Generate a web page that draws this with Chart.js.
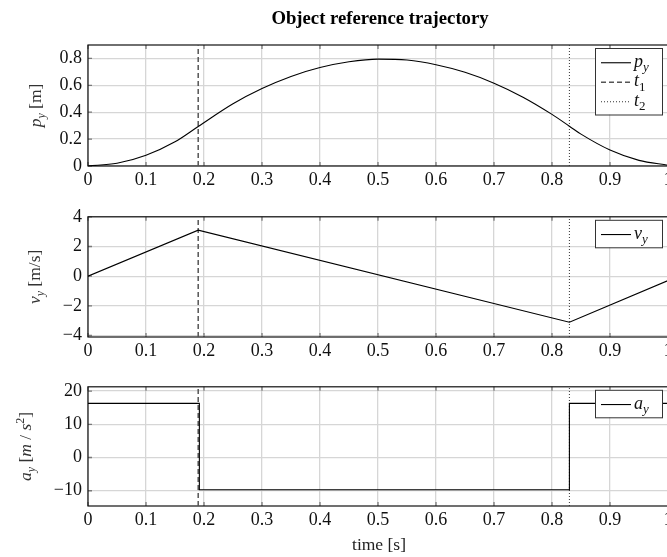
<!DOCTYPE html>
<html>
<head>
<meta charset="utf-8">
<script src="https://cdn.jsdelivr.net/npm/chart.js@4/dist/chart.umd.min.js"></script>
<style>
  html, body { margin: 0; padding: 0; background: #fff; }
  #wrap { position: relative; width: 667px; height: 557px; overflow: hidden; background: #fff; }
  #wrap canvas { position: absolute; left: 0; }
</style>
</head>
<body>
<div id="wrap">
  <canvas id="posChart" width="680" height="200" style="top:0px"></canvas>
  <canvas id="velChart" width="680" height="170" style="top:200px"></canvas>
  <canvas id="accChart" width="680" height="187" style="top:370px"></canvas>
</div>
<script>
// values
const timePos = [0, 0.05, 0.1, 0.15, 0.19, 0.25, 0.3, 0.35, 0.4, 0.45, 0.5, 0.55, 0.6, 0.65, 0.7, 0.75, 0.8, 0.83, 0.85, 0.9, 0.95, 1];
const posY = [0, 0.02, 0.08, 0.18, 0.294, 0.463, 0.576, 0.666, 0.732, 0.775, 0.795, 0.788, 0.753, 0.697, 0.616, 0.512, 0.384, 0.296, 0.237, 0.119, 0.042, 0.006];
const timeVel = [0, 0.19, 0.83, 1];
const velY = [0, 3.1, -3.1, -0.3];
const timeAcc = [0, 0.192, 0.192, 0.83, 0.83, 1];
const accY = [16.3, 16.3, -9.7, -9.7, 16.3, 16.3];
const t1 = 0.19;
const t2 = 0.83;

const xTickVals = [0, 0.1, 0.2, 0.3, 0.4, 0.5, 0.6, 0.7, 0.8, 0.9, 1];
const posTickVals = [0, 0.2, 0.4, 0.6, 0.8];
const velTickVals = [-4, -2, 0, 2, 4];
const accTickVals = [-10, 0, 10, 20];

const SERIF = '"Liberation Serif", "Times New Roman", serif';
const TICK_SIZE = 18;

const fmt = v => String(Number(v.toFixed(2))).replace('-', '\u2212');
const pts = (xs, ys) => xs.map((x, i) => ({ x: x, y: ys[i] }));

// draw text made of pieces (italic / subscript / superscript)
function richWidth(ctx, parts, size) {
  let w = 0;
  parts.forEach(p => {
    const s = (p.sub || p.sup) ? Math.round(size * 0.7) : size;
    ctx.font = (p.it ? 'italic ' : '') + s + 'px ' + SERIF;
    w += ctx.measureText(p.t).width;
  });
  return w;
}
function drawRich(ctx, parts, x, y, size) {
  let cx = x;
  parts.forEach(p => {
    const s = (p.sub || p.sup) ? Math.round(size * 0.7) : size;
    ctx.font = (p.it ? 'italic ' : '') + s + 'px ' + SERIF;
    const dy = p.sub ? size * 0.25 : p.sup ? -size * 0.38 : 0;
    ctx.fillText(p.t, cx, y + dy);
    cx += ctx.measureText(p.t).width;
  });
  return cx - x;
}

function decorPlugin(cfg) {
  return {
    id: 'decor',
    beforeDatasetsDraw(chart) {
      const { ctx, chartArea: a, scales } = chart;
      ctx.save();
      // small inner tick marks
      ctx.strokeStyle = '#7a7a7a';
      ctx.lineWidth = 1.3;
      ctx.beginPath();
      xTickVals.forEach(v => {
        const px = scales.x.getPixelForValue(v);
        ctx.moveTo(px, a.bottom); ctx.lineTo(px, a.bottom - 4);
        ctx.moveTo(px, a.top); ctx.lineTo(px, a.top + 4);
      });
      cfg.yTicks.forEach(v => {
        const py = scales.y.getPixelForValue(v);
        ctx.moveTo(a.left, py); ctx.lineTo(a.left + 4, py);
      });
      ctx.stroke();
      // frame
      ctx.strokeStyle = '#111';
      ctx.lineWidth = 1.2;
      ctx.strokeRect(a.left, a.top, a.right - a.left, a.bottom - a.top);
      ctx.restore();
    },
    afterDraw(chart) {
      const { ctx, chartArea: a } = chart;
      ctx.save();
      ctx.textBaseline = 'alphabetic';
      // legend box
      const rowH = 19.5;
      const bw = 67;
      const bh = 8 + cfg.legend.length * rowH;
      const bx = a.right - 6 - bw;
      const by = a.top + 3;
      ctx.fillStyle = '#fff';
      ctx.fillRect(bx, by, bw, bh);
      ctx.strokeStyle = '#333';
      ctx.lineWidth = 1;
      ctx.strokeRect(bx + 0.5, by + 0.5, bw, bh);
      cfg.legend.forEach((item, i) => {
        const ly = by + 4 + rowH * i + rowH / 2 + 1;
        ctx.strokeStyle = item.color;
        ctx.lineWidth = item.width;
        ctx.setLineDash(item.dash);
        ctx.beginPath();
        ctx.moveTo(bx + 6, ly);
        ctx.lineTo(bx + 36, ly);
        ctx.stroke();
        ctx.setLineDash([]);
        ctx.fillStyle = '#111';
        ctx.textAlign = 'left';
        drawRich(ctx, item.parts, bx + 39, ly + 4, 18);
      });
      // rotated y title
      ctx.fillStyle = '#333';
      const tw = richWidth(ctx, cfg.yTitle, 17.5);
      ctx.translate(cfg.yTitleX, (a.top + a.bottom) / 2);
      ctx.rotate(-Math.PI / 2);
      ctx.textAlign = 'left';
      drawRich(ctx, cfg.yTitle, -tw / 2, 0, 17.5);
      ctx.restore();
      if (cfg.extra) cfg.extra(chart);
    }
  };
}

function makePanel(id, cfg) {
  const datasets = cfg.lines.map(l => ({
    data: l.data,
    borderColor: l.color,
    borderWidth: l.width,
    borderDash: l.dash,
    pointRadius: 0,
    fill: false,
    cubicInterpolationMode: l.smooth ? 'monotone' : 'default',
    tension: 0,
    order: l.order
  }));
  return new Chart(document.getElementById(id), {
    type: 'line',
    data: { datasets: datasets },
    options: {
      responsive: false,
      animation: false,
      events: [],
      layout: { padding: { top: cfg.padTop, right: 12, left: 0, bottom: 0 } },
      plugins: { legend: { display: false }, tooltip: { enabled: false } },
      scales: {
        x: {
          type: 'linear',
          min: 0,
          max: 1,
          afterBuildTicks: s => { s.ticks = xTickVals.map(v => ({ value: v })); },
          afterFit: s => { s.height = cfg.xHeight; },
          grid: { color: '#d6d6d6', lineWidth: 1.3, drawTicks: false },
          border: { display: false },
          ticks: { padding: 3, color: '#111', font: { family: SERIF, size: TICK_SIZE }, callback: v => fmt(v), maxRotation: 0, autoSkip: false }
        },
        y: {
          type: 'linear',
          min: cfg.yMin,
          max: cfg.yMax,
          afterBuildTicks: s => { s.ticks = cfg.yTicks.map(v => ({ value: v })); },
          afterFit: s => { s.width = 88; },
          grid: { color: '#d6d6d6', lineWidth: 1.3, drawTicks: false },
          border: { display: false },
          ticks: { padding: 6, color: '#111', font: { family: SERIF, size: TICK_SIZE }, callback: v => fmt(v), autoSkip: false }
        }
      }
    },
    plugins: [decorPlugin(cfg)]
  });
}

const solid = { color: '#000', width: 1.1, dash: [] };
const dashed = { color: '#555', width: 1.5, dash: [5, 3] };
const dotted = { color: '#333', width: 1, dash: [1, 2] };

function markerLines(yMin, yMax) {
  return [
    Object.assign({ data: pts([t1, t1], [yMin, yMax]), order: 2 }, dashed),
    Object.assign({ data: pts([t2, t2], [yMin, yMax]), order: 2 }, dotted)
  ];
}

const sub = (m, s, sIt) => [{ t: m, it: true }, { t: s, it: sIt, sub: true }];

makePanel('posChart', {
  padTop: 45, xHeight: 34, yMin: 0, yMax: 0.9, yTicks: posTickVals, yTitleX: 41,
  yTitle: sub('p', 'y', true).concat([{ t: ' [m]' }]),
  lines: [Object.assign({ data: pts(timePos, posY), smooth: true, order: 1 }, solid)].concat(markerLines(0, 0.9)),
  legend: [
    Object.assign({ parts: sub('p', 'y', true) }, solid),
    Object.assign({ parts: sub('t', '1', false) }, dashed),
    Object.assign({ parts: sub('t', '2', false) }, dotted)
  ],
  extra: chart => {
    const ctx = chart.ctx;
    ctx.save();
    ctx.fillStyle = '#000';
    ctx.textAlign = 'center';
    ctx.textBaseline = 'alphabetic';
    ctx.font = 'bold 18.7px ' + SERIF;
    ctx.fillText('Object reference trajectory', 380, 23.5);
    ctx.restore();
  }
});

makePanel('velChart', {
  padTop: 15, xHeight: 33, yMin: -4.1, yMax: 4, yTicks: velTickVals, yTitleX: 40,
  yTitle: sub('v', 'y', true).concat([{ t: ' [m/s]' }]),
  lines: [Object.assign({ data: pts(timeVel, velY), order: 1 }, solid)].concat(markerLines(-4.1, 4)),
  legend: [Object.assign({ parts: sub('v', 'y', true) }, solid)]
});

makePanel('accChart', {
  padTop: 15, xHeight: 51, yMin: -14.6, yMax: 21.3, yTicks: accTickVals, yTitleX: 31,
  yTitle: sub('a', 'y', true).concat([{ t: ' [' }, { t: 'm', it: true }, { t: ' / ' }, { t: 's', it: true }, { t: '2', sup: true }, { t: ']' }]),
  lines: [Object.assign({ data: pts(timeAcc, accY), order: 1 }, solid)].concat(markerLines(-14.6, 21.3)),
  legend: [Object.assign({ parts: sub('a', 'y', true) }, solid)],
  extra: chart => {
    const ctx = chart.ctx;
    ctx.save();
    ctx.fillStyle = '#222';
    ctx.textAlign = 'center';
    ctx.textBaseline = 'alphabetic';
    ctx.font = '17.5px ' + SERIF;
    ctx.fillText('time [s]', 379, 180);
    ctx.restore();
  }
});
</script>
</body>
</html>
